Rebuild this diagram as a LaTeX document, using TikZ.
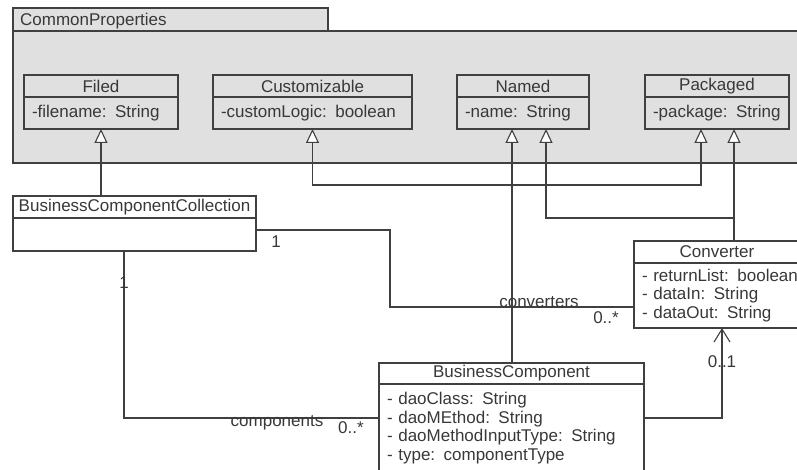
\documentclass[tikz,border=0pt]{standalone}
\usepackage{fontspec}
\setmainfont{Liberation Sans}
\usetikzlibrary{positioning,arrows.meta}
\definecolor{ink}{HTML}{404040}
\definecolor{txt}{HTML}{383838}
\definecolor{pkgfill}{HTML}{E0E0E0}
\newcommand{\umlfont}{\fontsize{17}{18.5}\selectfont}
\tikzset{
  line/.style={draw=ink, line width=1.1pt},
  hdr/.style={line, rectangle, minimum height=22pt, inner sep=0pt, outer sep=0pt, text=txt, font=\umlfont},
  attr/.style={line, rectangle, inner xsep=8pt, inner ysep=0pt, outer sep=0pt, align=left, text=txt, font=\umlfont},
  gen/.style={line, -{Triangle[length=14pt, width=13pt, fill=white]}},
  genboth/.style={line, {Triangle[length=14pt, width=13pt, fill=white]}-{Triangle[length=14pt, width=13pt, fill=white]}},
  nav/.style={line, -{Straight Barb[length=13pt, width=16pt]}},
  assoc/.style={line},
  mult/.style={text=txt, font=\umlfont, inner sep=0pt},
}

\begin{document}
\begin{tikzpicture}[x=1pt, y=-1pt]
  \useasboundingbox (0,0) rectangle (797,470);

  % package
  \draw[line, fill=pkgfill] (13,8) rectangle (328,31);
  \draw[line, fill=pkgfill] (13,31) rectangle (812,163);
  \node[mult, anchor=west] (pkgname) at (20,21) {CommonProperties};

  % classes in the package
  \node[hdr, minimum width=154pt] (filedH) at (101,86) {Filed};
  \node[attr, text width=138pt, minimum height=32pt, below=0pt of filedH] (filedA) {-filename: String};
  \node[hdr, minimum width=199pt] (custH) at (312.5,86) {Customizable};
  \node[attr, text width=183pt, minimum height=32pt, below=0pt of custH] (custA) {-customLogic: boolean};
  \node[hdr, minimum width=132pt] (namedH) at (523,86) {Named};
  \node[attr, text width=116pt, minimum height=32pt, below=0pt of namedH] (namedA) {-name: String};
  \node[hdr, minimum width=144pt] (packH) at (717,86) {Packaged};
  \node[attr, text width=128pt, minimum height=32pt, below=0pt of packH] (packA) {-package: String};

  % other classes
  \node[hdr, minimum width=243pt] (bccH) at (134.5,207) {BusinessComponentCollection};
  \node[attr, text width=227pt, minimum height=33pt, below=0pt of bccH] (bccA) {};
  \node[hdr, minimum width=166pt] (convH) at (717,252) {Converter};
  \node[attr, text width=170pt, minimum height=65pt, below right=0pt and 0pt of convH.south west] (convA)
    {- returnList: boolean\\- dataIn: String\\- dataOut: String};
  \node[hdr, minimum width=265pt, minimum height=21pt] (bcH) at (511.5,373.5) {BusinessComponent};
  \node[attr, text width=249pt, minimum height=88pt, below=0pt of bcH] (bcA)
    {- daoClass: String\\- daoMEthod: String\\- daoMethodInputType: String\\- type: componentType};

  % generalizations
  \draw[gen] (bccH.north -| filedA.south) -- (filedA.south);
  \draw[genboth] (custA.south) -- ++(0,56) -| ([xshift=-16pt]packA.south);
  \draw[gen] ([xshift=0.5pt]bcH.north) -- ([xshift=-11pt]namedA.south);
  \draw[gen] ([xshift=17pt]convH.north) -- ([xshift=17pt]packA.south);
  \draw[gen] ([xshift=17pt]convH.north) -- ++(0,-23) -| ([xshift=23pt]namedA.south);

  % associations
  \draw[assoc] ([yshift=4.5pt]bccA.east) -- ++(134,0) |- ([yshift=-11.5pt]convA.west);
  \draw[assoc] ([xshift=-10.5pt]bccA.south) |- ([yshift=10pt]bcA.west);
  \draw[nav] ([yshift=10pt]bcA.east) -| ([xshift=5pt]convA.south -| convH.south);

  \node[mult] (mcol) at (276,242) {1};
  \node[mult] (rconv) at (539,302) {converters};
  \node[mult] (mconv) at (606,318) {0..*};
  \node[mult] (mcol2) at (124,283) {1};
  \node[mult] (rcomp) at (277,423) {components};
  \node[mult] (mcomp) at (351,428) {0..*};
  \node[mult] (mnav) at (722,362) {0..1};
\end{tikzpicture}
\end{document}
